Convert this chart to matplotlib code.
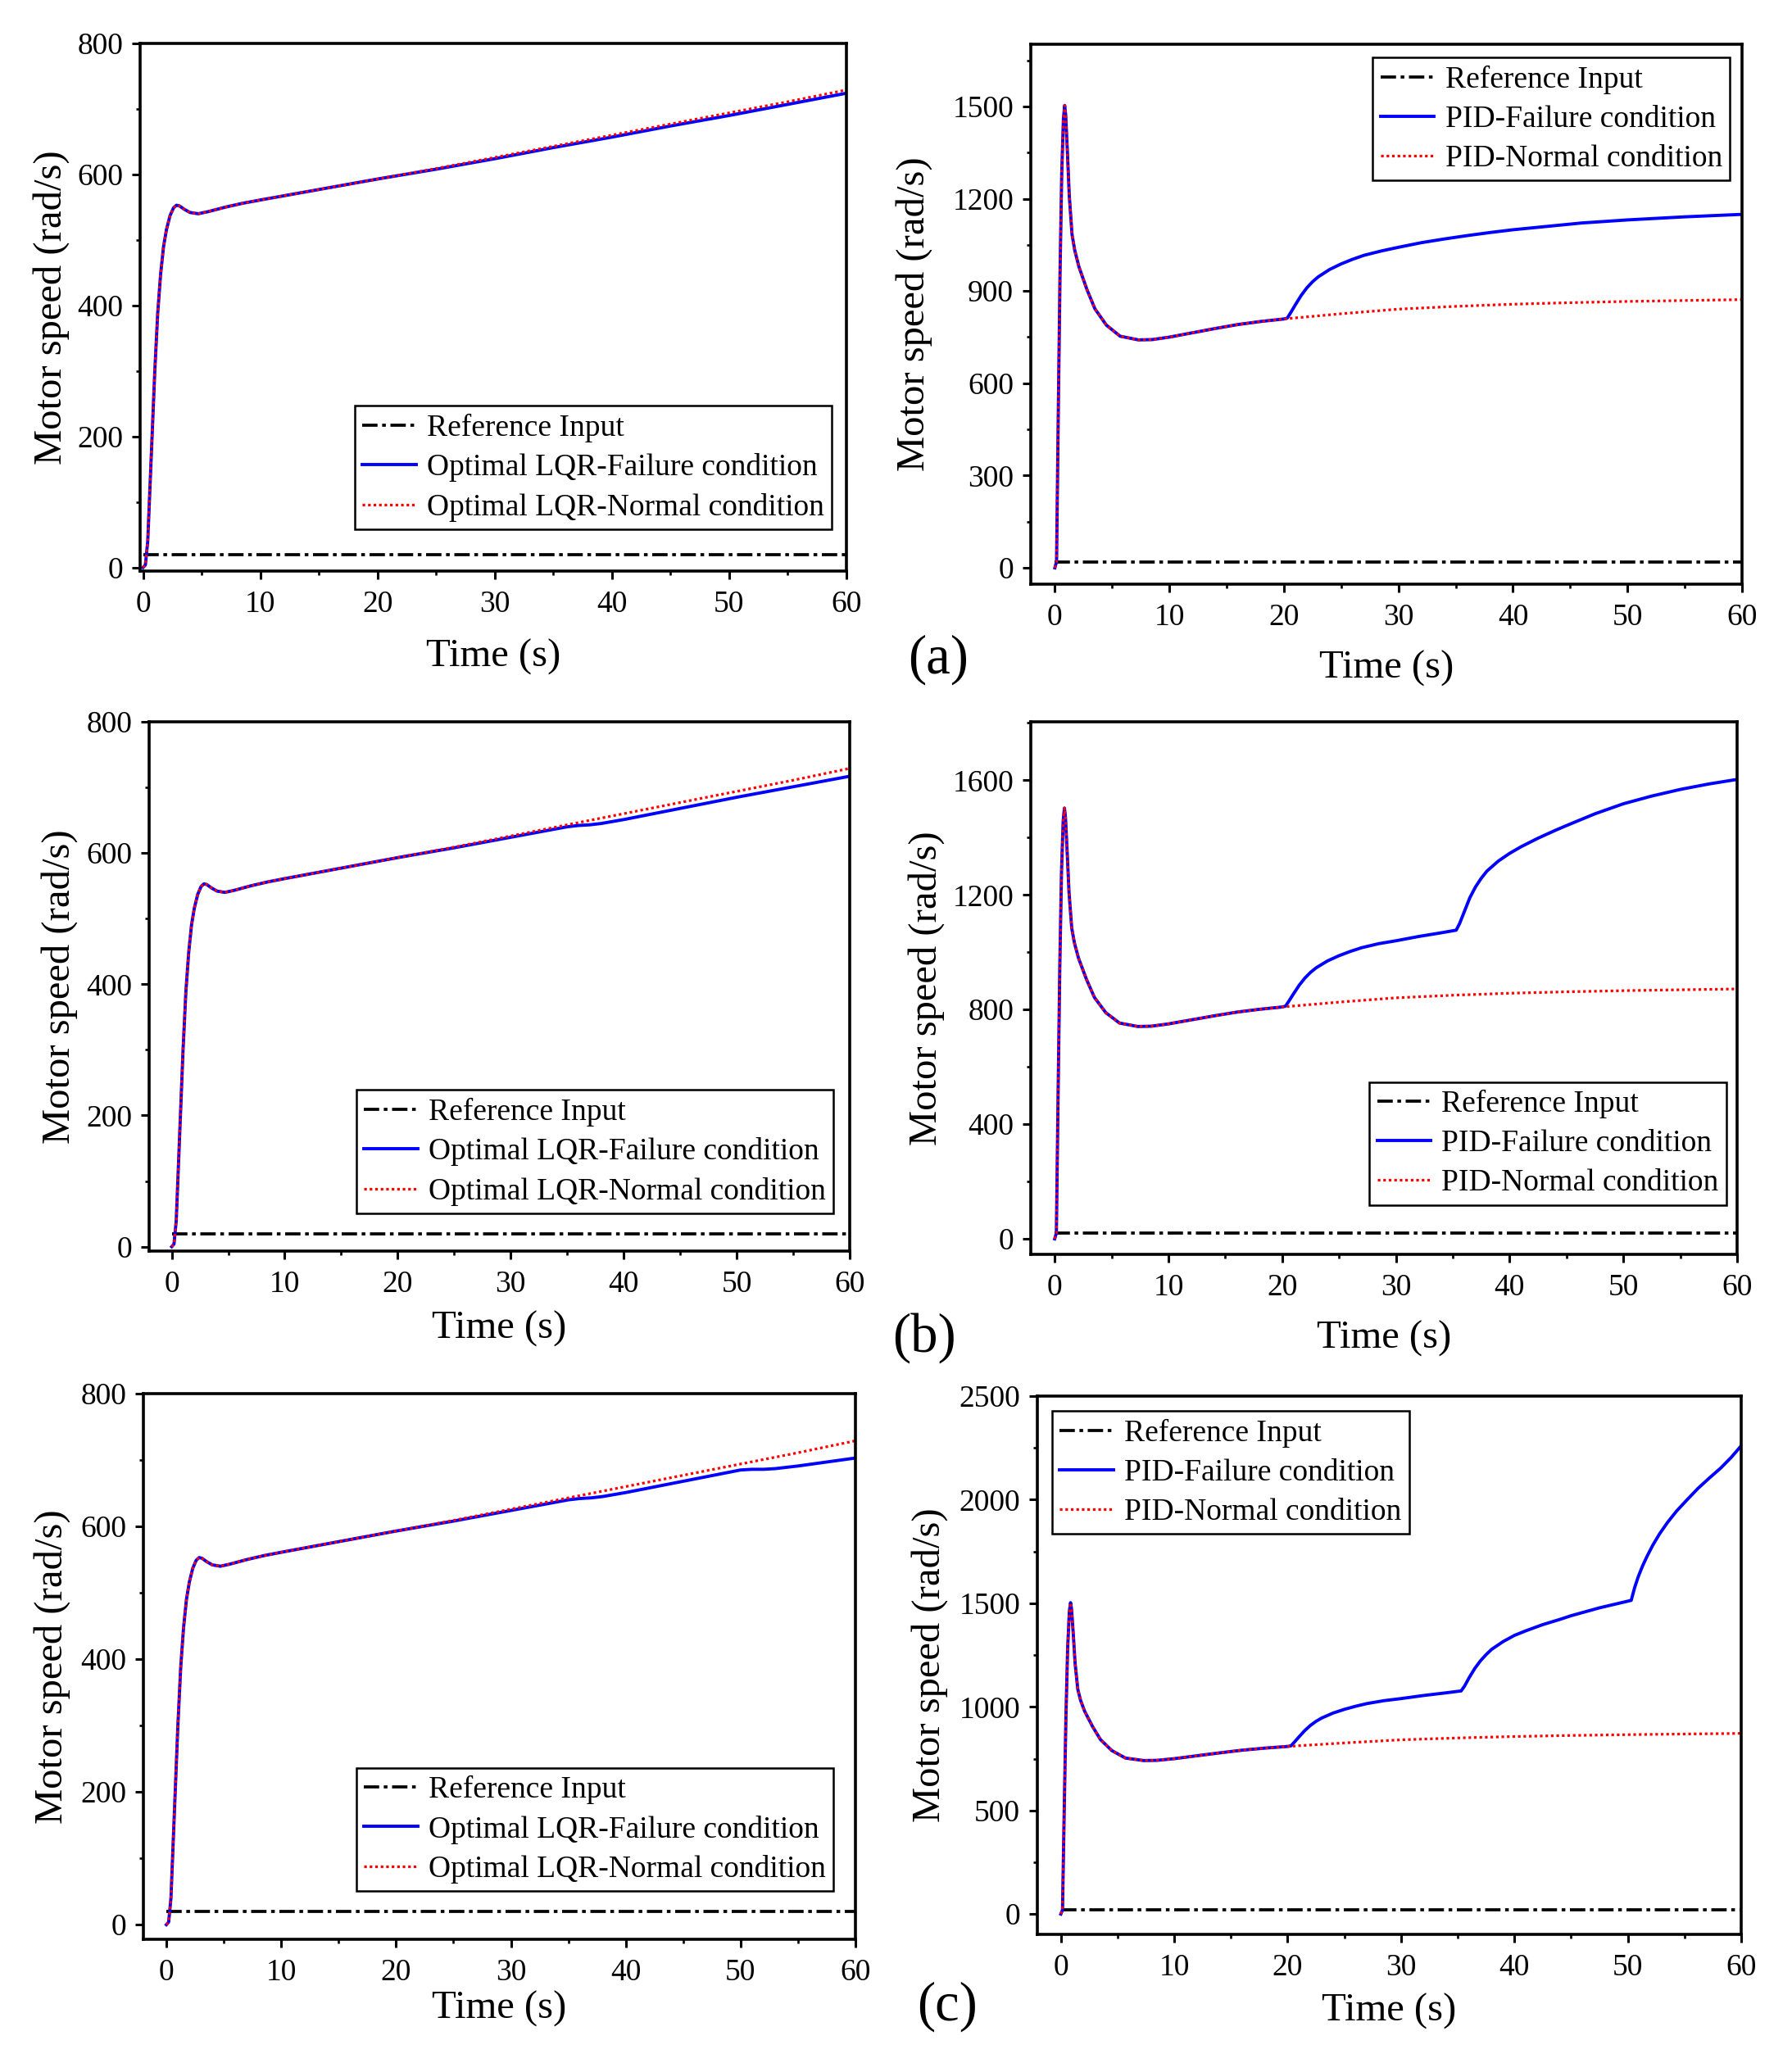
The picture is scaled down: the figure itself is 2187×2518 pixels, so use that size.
import numpy as np
import matplotlib
matplotlib.use("Agg")
import matplotlib.pyplot as plt
from matplotlib.ticker import MultipleLocator

plt.rcParams['font.family'] = ['Liberation Serif', 'DejaVu Serif']

# reference input (rad/s)
ref_t = [0, 60]
ref_v = [20, 20]

# optimal LQR, normal condition
lqr_t = [0, 0.2, 0.4, 0.65, 1.0, 1.25, 1.5, 1.75, 2.0, 2.3, 2.6, 2.85, 3.1, 3.5,
         4.0, 4.7, 5.5, 7.0, 8.5, 10, 12.5, 15, 17.5, 20, 25, 30, 35, 40, 45, 50, 55, 60]
lqr_normal = [0, 4, 40, 148, 299, 388, 448, 490, 516, 537, 549, 553, 552, 547,
              542, 540, 543, 550, 556, 561, 569, 577, 585, 593, 609, 626, 643, 660, 677, 694, 711, 729]

# optimal LQR, failure condition (part after the first fault)
lqr_fail_a_t = [20, 22, 25, 30, 35, 40, 45, 50, 55, 60]
lqr_fail_a = [593, 599, 608, 624, 641, 657, 674, 690, 707, 724]
lqr_fail_b_t = [20, 25, 30, 35, 36, 37, 38, 40, 45, 50, 55, 60]
lqr_fail_b = [593, 608, 624, 640, 642, 643, 645, 651, 668, 685, 701, 717]
lqr_fail_c_t = [20, 25, 30, 35, 36, 37, 38, 40, 45, 50, 51, 52, 53, 55, 57.5, 60]
lqr_fail_c = [593, 608, 624, 640, 642, 643, 645, 651, 668, 685, 686, 686, 687, 691, 697, 703]

# PID, normal condition
pid_t = [0, 0.15, 0.3, 0.45, 0.6, 0.75, 0.86, 0.95, 1.1, 1.26, 1.5, 1.74, 2.1, 2.8,
         3.5, 4.5, 5.7, 7.3, 8.5, 10, 12, 14, 16, 18, 20, 25, 30, 35, 40, 45, 50, 55, 60]
pid_normal = [0, 20, 500, 950, 1280, 1460, 1503, 1470, 1350, 1210, 1084, 1032, 979, 905,
              842, 789, 753, 741, 742, 750, 764, 778, 791, 801, 809, 826, 841, 850, 857, 862, 866, 869, 872]

# PID, failure condition (part after the first fault)
pid_fail_a_t = [20, 20.3, 20.6, 21, 21.5, 22, 22.5, 23, 24, 25, 26, 27, 28.5, 30, 32, 34,
                36, 38, 40, 43, 46, 50, 55, 60]
pid_fail_a = [809, 812, 830, 855, 885, 910, 930, 946, 970, 988, 1003, 1016, 1030, 1042, 1057, 1069,
              1080, 1090, 1099, 1110, 1121, 1131, 1141, 1149]
pid_fail_b_t = [20, 20.3, 20.6, 21, 21.5, 22, 22.5, 23, 24, 25, 26, 27, 28.5, 30, 32, 34, 35.3,
                35.6, 36, 36.5, 37, 37.5, 38, 39, 40, 41, 42.5, 44, 45, 47.5, 50, 52.5, 55, 57.5, 60]
pid_fail_b = [809, 812, 830, 855, 885, 910, 930, 946, 970, 988, 1003, 1016, 1030, 1040, 1055, 1068, 1077,
              1100, 1140, 1190, 1228, 1258, 1283, 1318, 1345, 1368, 1398, 1425, 1442, 1483, 1518,
              1545, 1568, 1587, 1603]
pid_fail_c_t = [20, 20.3, 20.6, 21, 21.5, 22, 22.5, 23, 24, 25, 26, 27, 28.5, 30, 32, 34, 35.3,
                35.6, 36, 36.5, 37, 37.5, 38, 39, 40, 41, 42.5, 44, 45, 47.5, 50.3,
                50.6, 50.9, 51.3, 51.7, 52.2, 52.8, 53.5, 54.3, 55.2, 56.2, 57.2, 58.2, 59.1, 60]
pid_fail_c = [809, 812, 830, 855, 885, 910, 930, 946, 970, 988, 1003, 1016, 1030, 1040, 1055, 1068, 1077,
              1100, 1140, 1185, 1222, 1252, 1278, 1315, 1345, 1367, 1397, 1422, 1440, 1478, 1514,
              1575, 1625, 1680, 1727, 1780, 1835, 1890, 1945, 1998, 2055, 2105, 2153, 2203, 2260]

lqr_labels = ['Reference Input', 'Optimal LQR-Failure condition', 'Optimal LQR-Normal condition']
pid_labels = ['Reference Input', 'PID-Failure condition', 'PID-Normal condition']

W, H = 2187, 2518
fig = plt.figure(figsize=(W / 100, H / 100), dpi=100)


def px_axes(left, right, top, bottom):
    return fig.add_axes([left / W, 1 - bottom / H, (right - left) / W, (bottom - top) / H])


def join(base_t, base_v, tail_t, tail_v):
    t = [x for x in base_t if x < tail_t[0]] + list(tail_t)
    v = [y for x, y in zip(base_t, base_v) if x < tail_t[0]] + list(tail_v)
    return t, v


def draw(ax, base_t, base_v, tail_t, tail_v, labels, xlim, ylim, ymaj, legend_loc, legend_anchor,
         ylab_x, xlab_y):
    ft, fv = join(base_t, base_v, tail_t, tail_v)
    ax.plot(ref_t, ref_v, color='black', lw=2.7, linestyle=(0, (5, 1.5, 1.2, 1.5)), label=labels[0])
    ax.plot(ft, fv, color='#0000ff', lw=2.8, label=labels[1])
    ax.plot(base_t, base_v, color='#ff0000', lw=2.3, linestyle=(0, (1, 1.1)), label=labels[2])
    ax.set_xlim(*xlim)
    ax.set_ylim(*ylim)
    ax.xaxis.set_major_locator(MultipleLocator(10))
    ax.xaxis.set_minor_locator(MultipleLocator(5))
    ax.yaxis.set_major_locator(MultipleLocator(ymaj))
    ax.yaxis.set_minor_locator(MultipleLocator(ymaj / 2))
    ax.tick_params(which='major', direction='out', length=7, width=2.2, labelsize=27)
    ax.tick_params(which='minor', direction='out', length=3.8, width=1.9)
    ax.tick_params(axis='x', which='major', pad=10)
    ax.tick_params(axis='y', which='major', pad=8)
    for s in ax.spines.values():
        s.set_linewidth(2.6)
    ax.set_xlabel('Time (s)', fontsize=35)
    ax.set_ylabel('Motor speed (rad/s)', fontsize=35)
    ax.yaxis.set_label_coords(ylab_x, 0.5)
    ax.xaxis.set_label_coords(0.5, xlab_y)
    leg = ax.legend(loc=legend_loc, bbox_to_anchor=legend_anchor, fontsize=27, frameon=True,
                    fancybox=False, framealpha=1, edgecolor='black', handlelength=1.75,
                    handletextpad=0.35, labelspacing=0.36, borderpad=0.25, borderaxespad=0)
    leg.get_frame().set_linewidth(1.8)


ax1 = px_axes(171, 1033, 53, 697)
draw(ax1, lqr_t, lqr_normal, lqr_fail_a_t, lqr_fail_a, lqr_labels, (-0.25, 60), (-5.4, 800), 200,
     'lower right', (0.979, 0.079), -0.100, -0.129)

ax2 = px_axes(1258, 2126, 54, 713)
draw(ax2, pid_t, pid_normal, pid_fail_a_t, pid_fail_a, pid_labels, (-2.1, 60), (-53, 1702), 300,
     'upper right', (0.983, 0.975), -0.138, -0.122)

ax3 = px_axes(182, 1037, 881, 1527)
draw(ax3, lqr_t, lqr_normal, lqr_fail_b_t, lqr_fail_b, lqr_labels, (-2.0, 60), (-6.7, 800), 200,
     'lower right', (0.977, 0.071), -0.102, -0.112)

ax4 = px_axes(1258, 2120, 881, 1531)
draw(ax4, pid_t, pid_normal, pid_fail_b_t, pid_fail_b, pid_labels, (-2.1, 60), (-54, 1804), 400,
     'lower right', (0.985, 0.093), -0.122, -0.125)

ax5 = px_axes(175, 1044, 1701, 2367)
draw(ax5, lqr_t, lqr_normal, lqr_fail_c_t, lqr_fail_c, lqr_labels, (-2.0, 60), (-22, 800), 200,
     'lower right', (0.969, 0.088), -0.102, -0.094)

ax6 = px_axes(1266, 2125, 1704, 2361)
draw(ax6, pid_t, pid_normal, pid_fail_c_t, pid_fail_c, pid_labels, (-2.07, 60), (-98, 2500), 500,
     'upper left', (0.021, 0.972), -0.127, -0.109)

for lab, x, y in [('(a)', 1145, 805), ('(b)', 1128, 1633), ('(c)', 1156, 2449)]:
    fig.text(x / W, 1 - y / H, lab, fontsize=48, ha='center', va='center')

fig.savefig('out.png', dpi=100)
